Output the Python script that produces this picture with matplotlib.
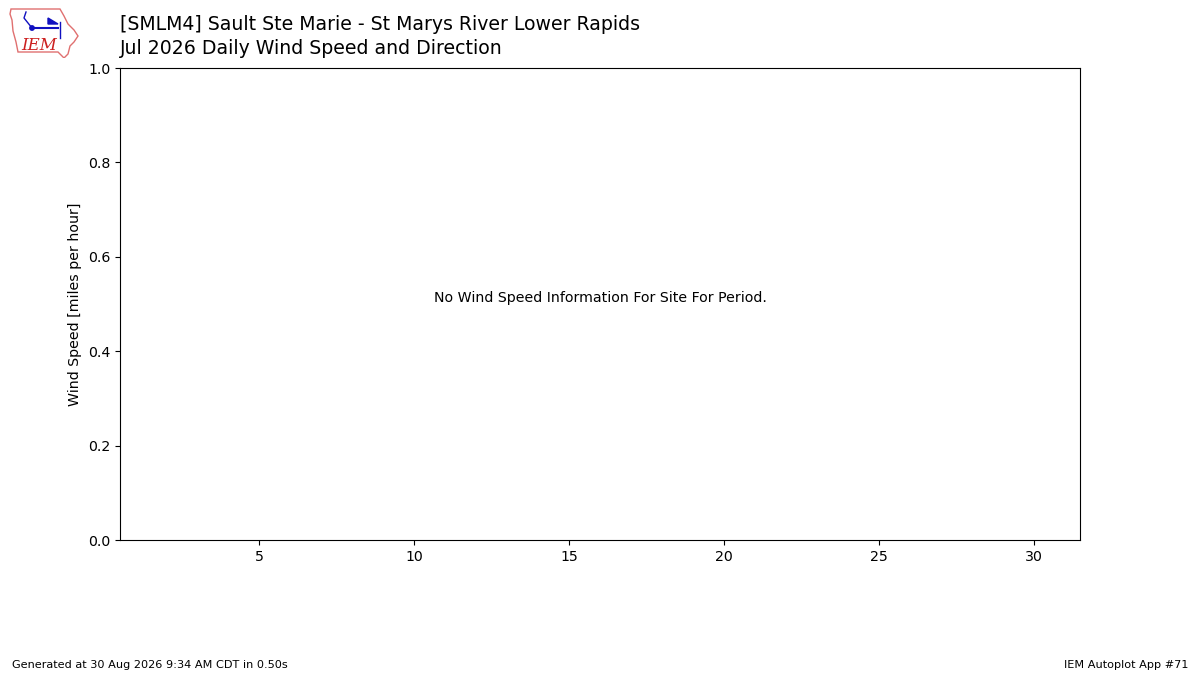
import matplotlib
matplotlib.use("Agg")
import matplotlib.pyplot as plt
from matplotlib.patches import Polygon, Circle

title_lines = ["[SMLM4] Sault Ste Marie - St Marys River Lower Rapids",
               "Jul 2026 Daily Wind Speed and Direction"]
xticks = [5, 10, 15, 20, 25, 30]
yticks = [0.0, 0.2, 0.4, 0.6, 0.8, 1.0]
message = "No Wind Speed Information For Site For Period."
ylabel = "Wind Speed [miles per hour]"
footer_left = "Generated at 30 Aug 2026 9:34 AM CDT in 0.50s"
footer_right = "IEM Autoplot App #71"

plt.rcParams["font.size"] = 10.2
fig = plt.figure(figsize=(12, 6.75), dpi=100)
ax = fig.add_axes([120/1200, 1-540/675, 960/1200, 472/675])
ax.set_xlim(0.5, 31.5)
ax.set_ylim(0, 1)
ax.set_xticks(xticks)
ax.set_yticks(yticks)
ax.set_yticklabels([f"{v:.1f}" for v in yticks])
ax.tick_params(labelsize=10.2)
ax.set_ylabel(ylabel, fontsize=10.2)
ax.text(0.5, 0.512, message, transform=ax.transAxes, ha="center", va="center", fontsize=10.2)

fig.text(120/1200, 1-24/675, title_lines[0], fontsize=13.6, va="center", ha="left")
fig.text(120/1200, 1-48/675, title_lines[1], fontsize=13.6, va="center", ha="left")

fig.text(12/1200, 1-665/675, footer_left, fontsize=8.15, va="center", ha="left")
fig.text(1188/1200, 1-665/675, footer_right, fontsize=8.15, va="center", ha="right")

# logo
lax = fig.add_axes([8/1200, 1-58/675, 72/1200, 52/675])
lax.set_xlim(0, 72); lax.set_ylim(52, 0)
lax.axis("off")
iowa = [(3, 3), (52, 3), (56, 10), (60, 18), (66, 24), (70, 30), (66, 36), (62, 40),
        (60, 48), (56, 52), (50, 46), (10, 46), (8, 36), (5, 25), (4, 14), (2, 8)]
lax.add_patch(Polygon(iowa, closed=True, fill=False, edgecolor="#e07070", lw=1))
lax.plot([24, 50], [22, 22], color="#1010c0", lw=1.5)
lax.add_patch(Circle((24, 22), 2.2, color="#1010c0"))
lax.plot([24, 16, 18], [22, 12, 6], color="#1010c0", lw=1)
lax.add_patch(Polygon([(40, 12), (50, 18), (40, 18)], closed=True, color="#1010c0"))
lax.plot([52, 52], [16, 32], color="#1010c0", lw=1)
lax.text(13, 40, "IEM", color="#cc2020", fontsize=12, family="DejaVu Serif", style="italic", va="center")

fig.savefig("out.png", dpi=100)
